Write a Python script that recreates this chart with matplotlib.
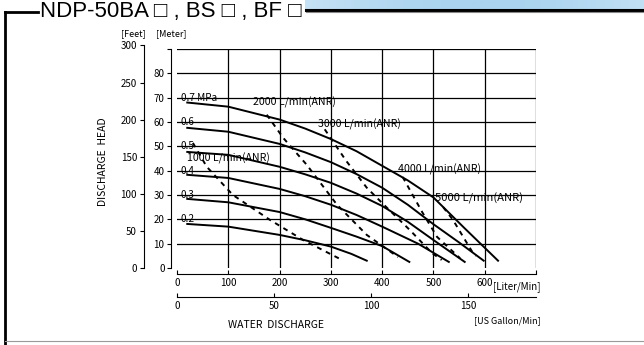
import numpy as np
import matplotlib
matplotlib.use("Agg")
import matplotlib.pyplot as plt

plt.rcParams['font.family'] = ['Noto Sans CJK JP', 'DejaVu Sans']

# Pump performance curves: water discharge (L/min) vs discharge head (m)
pressures = ["0.7 MPa", "0.6", "0.5", "0.4", "0.3", "0.2"]
pressure_heads = [70, 60, 50, 40, 30, 20]
flow_07 = [20, 100, 200, 250, 300, 350, 400, 450, 500, 560, 626]
head_07 = [68.0, 66.3, 61.0, 57.3, 53.0, 48.0, 42.0, 36.0, 29.0, 16.5, 3.0]
flow_06 = [20, 100, 200, 250, 300, 350, 400, 450, 500, 550, 598]
head_06 = [57.6, 56.0, 51.0, 47.5, 43.5, 38.6, 33.0, 26.0, 18.0, 10.5, 3.0]
flow_05 = [20, 100, 200, 250, 300, 350, 400, 450, 500, 561]
head_05 = [47.7, 46.5, 41.6, 38.5, 35.0, 30.6, 25.5, 19.0, 11.5, 2.5]
flow_04 = [20, 100, 200, 250, 300, 350, 400, 470, 530]
head_04 = [38.3, 37.0, 32.5, 29.5, 26.0, 21.8, 17.0, 10.0, 2.5]
flow_03 = [20, 100, 200, 250, 300, 350, 400, 453]
head_03 = [28.4, 27.0, 23.0, 20.0, 16.5, 12.9, 9.0, 2.5]
flow_02 = [20, 100, 200, 250, 300, 340, 370]
head_02 = [18.1, 17.0, 13.6, 11.4, 8.8, 5.8, 3.0]

# Air consumption lines
air_labels = ["1000 L/min(ANR)", "2000 L/min(ANR)", "3000 L/min(ANR)",
              "4000 L/min(ANR)", "5000 L/min(ANR)"]
air_flow_1000 = [31, 58, 109, 181, 246, 318]
air_head_1000 = [51.4, 41.6, 30.0, 19.8, 11.5, 3.7]
air_flow_2000 = [175, 207, 253, 312, 370, 431]
air_head_2000 = [63.0, 53.5, 42.4, 26.0, 13.6, 4.5]
air_flow_3000 = [288, 330, 370, 400, 454, 497, 516]
air_head_3000 = [57.0, 44.0, 33.0, 26.7, 15.6, 6.2, 3.3]
air_flow_4000 = [440, 478, 507, 552]
air_head_4000 = [37.4, 23.0, 12.8, 4.0]
air_flow_5000 = [519, 538, 558, 577, 583]
air_head_5000 = [25.0, 19.8, 12.8, 6.2, 5.0]
air_label_pos = [(20, 45), (148, 68), (275, 59), (431, 40.7), (503, 28.8)]

liter_ticks = [0, 100, 200, 300, 400, 500, 600, 700]
meter_ticks = [0, 10, 20, 30, 40, 50, 60, 70, 80, 90]
feet_ticks = [0, 50, 100, 150, 200, 250, 300]
gallon_ticks = [0, 50, 100, 150]

W, H = 644, 345
fig = plt.figure(figsize=(W / 100, H / 100), dpi=100)


def fx(px):
    return px / W


def fy(py):
    return 1 - py / H


# frame and header band
deco = fig.add_axes([0, 0, 1, 1])
deco.set_xlim(0, W)
deco.set_ylim(H, 0)
deco.axis("off")
grad = np.linspace(0, 1, 200)
band = 0.5 + 0.5 * np.abs(np.sin(grad * 3.0))
deco.imshow(band[None, :], extent=(305, W, 0, 9), aspect="auto",
            cmap=matplotlib.colors.LinearSegmentedColormap.from_list(
                "band", ["#e4f1fa", "#a9d3ef"]), vmin=0, vmax=1)
deco.plot([5, 38], [12, 12], color="black", lw=2)
deco.plot([5, 5], [12, 345], color="black", lw=2)
deco.plot([306, W], [10, 10], color="black", lw=2.2)
deco.plot([306, W], [11.5, 11.5], color="#888888", lw=0.8)
deco.plot([5, W], [341, 341], color="#999999", lw=0.8)
deco.text(40, 11, "NDP-50BA \u25a1 , BS \u25a1 , BF \u25a1", fontsize=16,
          va="center", ha="left", family=["Liberation Sans", "DejaVu Sans"])

# main chart in meters / liters
ax = fig.add_axes([fx(177), fy(268), fx(536) - fx(177), fy(49) - fy(268)])
ax.set_xlim(0, 700)
ax.set_ylim(0, 90)
ax.patch.set_alpha(0)
for s in ["top", "right"]:
    ax.spines[s].set_visible(False)
ax.spines["left"].set_position(("outward", 4))
ax.spines["bottom"].set_position(("outward", 4))
for v in liter_ticks[1:]:
    ax.axvline(v, color="black", lw=0.9, zorder=1)
for v in meter_ticks[1:]:
    ax.axhline(v, color="black", lw=0.9, zorder=1)

ax.set_xticks(liter_ticks)
ax.set_xticklabels([str(v) for v in liter_ticks[:-1]] + [""])
ax.set_yticks(meter_ticks)
ax.set_yticklabels([str(v) for v in meter_ticks[:-1]] + [""])
ax.tick_params(axis="x", direction="in", length=3, labelsize=7, pad=3)
ax.tick_params(axis="y", direction="out", length=3, labelsize=7, pad=2)

curves = [(flow_07, head_07), (flow_06, head_06), (flow_05, head_05),
          (flow_04, head_04), (flow_03, head_03), (flow_02, head_02)]
for (fl, hd), lab, ph in zip(curves, pressures, pressure_heads):
    ax.plot(fl, hd, color="black", lw=1.4, zorder=3, solid_joinstyle="round")
    ax.text(7, ph, lab, fontsize=7.2, va="center", ha="left", zorder=4)

air = [(air_flow_1000, air_head_1000), (air_flow_2000, air_head_2000),
       (air_flow_3000, air_head_3000), (air_flow_4000, air_head_4000),
       (air_flow_5000, air_head_5000)]
for i, ((fl, hd), lab, pos) in enumerate(zip(air, air_labels, air_label_pos)):
    ax.plot(fl, hd, color="black", lw=1.4, ls=(0, (2.5, 2.5)), zorder=3)
    ax.text(pos[0], pos[1], lab, fontsize=8.1 if i == 4 else 7.6,
            va="center", ha="left", zorder=4)

# feet scale
axf = fig.add_axes([fx(144), fy(268), 0.001, fy(268 - 300 * 0.3048 * 219 / 90) - fy(268)])
axf.set_ylim(0, 300)
axf.patch.set_alpha(0)
for s in ["top", "right", "bottom"]:
    axf.spines[s].set_visible(False)
axf.set_xticks([])
axf.set_yticks(feet_ticks)
axf.tick_params(axis="y", direction="out", length=3, labelsize=7, pad=2)

# US gallon scale
axg = fig.add_axes([fx(177), fy(297), fx(536) - fx(177), 0.001])
axg.set_xlim(0, 700 / 3.785)
axg.patch.set_alpha(0)
for s in ["top", "right", "left"]:
    axg.spines[s].set_visible(False)
axg.set_yticks([])
axg.set_xticks(gallon_ticks)
axg.tick_params(axis="x", direction="in", length=3, labelsize=7, pad=3)

fig.text(fx(103), fy(162), "DISCHARGE  HEAD", rotation=90, fontsize=7.5,
         ha="center", va="center")
fig.text(fx(276), fy(325), "WATER  DISCHARGE", fontsize=7.5,
         ha="center", va="center")
fig.text(fx(540), fy(287), "[Liter/Min]", fontsize=7, ha="right", va="center")
fig.text(fx(541), fy(321), "[US Gallon/Min]", fontsize=6.5, ha="right", va="center")
fig.text(fx(133), fy(34), "[Feet]", fontsize=6.5, ha="center", va="center")
fig.text(fx(171), fy(34), "[Meter]", fontsize=6.5, ha="center", va="center")

fig.savefig("out.png", dpi=100)
